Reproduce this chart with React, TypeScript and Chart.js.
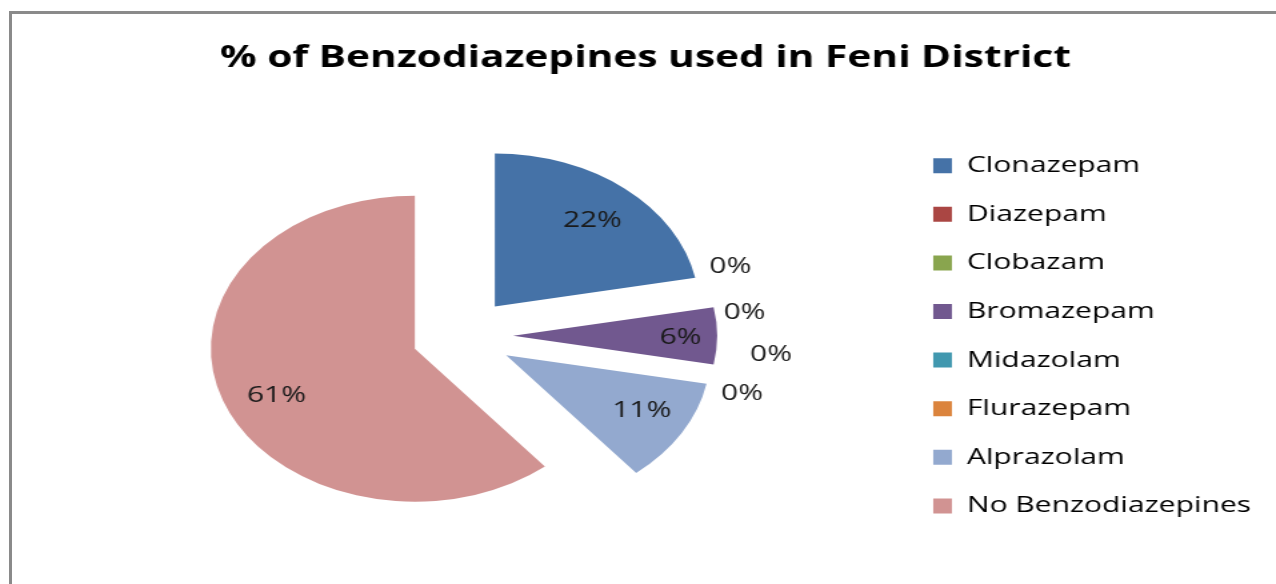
import React, { useEffect, useRef } from 'react';
import { Chart, registerables } from 'chart.js';

Chart.register(...registerables);

// ---- data ----
const categories = [
  'Clonazepam',
  'Diazepam',
  'Clobazam',
  'Bromazepam',
  'Midazolam',
  'Flurazepam',
  'Alprazolam',
  'No Benzodiazepines',
];
const percentages = [22, 0, 0, 6, 0, 0, 11, 61];
const titleText = '% of Benzodiazepines used in Feni District';

// ---- styles ----
const sliceColors = ['#4572A7', '#AA4643', '#89A54E', '#71588F', '#4198AF', '#DB843D', '#93A9CF', '#D19392'];
const EXPLODE = 38; // px each slice is pulled out from the centre
const PIE_RADIUS = 153;
const labelRadiusFrac = [0.75, 0, 0, 0.82, 0, 0, 0.75, 0.74];
// inside labels: small angle tweak from the bisector (degrees)
const insideLabelAngleShift = [0, 0, 0, 0, 0, 0, -3, -3.8];
// zero-value labels sit outside the pie, spread apart (degrees shift, px beyond rim)
const zeroLabelAngleShift = [0, -8.6, 4.1, 0, -6.6, 4.2, 0, 0];
const zeroLabelGap = [0, 60, 60, 0, 79, 64, 0, 0];
const FONT = '"Open Sans", Lato, sans-serif';
const LABEL_SIZE = 22.5;
const STRETCH = 1.3333;
const W = 1276;
const H = 584;
const DEG = Math.PI / 180;

const explodedPiePlugin = {
  id: 'explodedPie',
  beforeDatasetDraw(chart: any, args: any) {
    const ctx = chart.ctx;
    args.meta.data.forEach((arc: any) => {
      const { startAngle, endAngle } = arc.getProps(['startAngle', 'endAngle'], true);
      const mid = (startAngle + endAngle) / 2;
      ctx.save();
      ctx.translate(Math.cos(mid) * EXPLODE, Math.sin(mid) * EXPLODE);
      arc.draw(ctx, chart.chartArea);
      ctx.restore();
    });
    return false;
  },
  afterDatasetsDraw(chart: any) {
    const ctx = chart.ctx;
    const meta = chart.getDatasetMeta(0);
    ctx.save();
    ctx.font = `${LABEL_SIZE}px ${FONT}`;
    ctx.fillStyle = '#1a1a1a';
    ctx.textAlign = 'center';
    ctx.textBaseline = 'middle';
    meta.data.forEach((arc: any, i: number) => {
      const { x, y, startAngle, endAngle, outerRadius } = arc.getProps(
        ['x', 'y', 'startAngle', 'endAngle', 'outerRadius'],
        true
      );
      const v = percentages[i];
      let px: number;
      let py: number;
      if (v > 0) {
        const mid = (startAngle + endAngle) / 2;
        const ang = mid + insideLabelAngleShift[i] * DEG;
        const r = outerRadius * labelRadiusFrac[i];
        px = x + Math.cos(mid) * EXPLODE + Math.cos(ang) * r;
        py = y + Math.sin(mid) * EXPLODE + Math.sin(ang) * r;
      } else {
        const ang = startAngle + zeroLabelAngleShift[i] * DEG;
        const r = outerRadius + zeroLabelGap[i];
        px = x + Math.cos(ang) * r;
        py = y + Math.sin(ang) * r;
      }
      ctx.fillText(`${v}%`, px, py + 2);
    });
    ctx.restore();
  },
};

export default function App() {
  const canvasRef = useRef<HTMLCanvasElement | null>(null);

  useEffect(() => {
    if (!canvasRef.current) return;
    const chart = new Chart(canvasRef.current, {
      type: 'pie',
      data: {
        labels: categories,
        datasets: [
          {
            data: percentages,
            backgroundColor: sliceColors,
            borderWidth: 0,
            radius: PIE_RADIUS,
          } as any,
        ],
      },
      options: {
        animation: false,
        responsive: true,
        maintainAspectRatio: false,
        layout: { padding: { left: 20, right: 8.7, top: 0, bottom: 0 } },
        plugins: {
          title: {
            display: true,
            text: titleText,
            color: '#000',
            font: { family: FONT, size: 30.5, weight: 'bold' },
            padding: { top: 40, bottom: 11 },
          },
          legend: {
            position: 'right',
            fullSize: false,
            labels: {
              color: '#000',
              font: { family: FONT, size: LABEL_SIZE },
              boxWidth: 14,
              boxHeight: 15,
              padding: 26.1,
            },
          },
          tooltip: { enabled: false },
        },
      },
      plugins: [explodedPiePlugin],
    });
    return () => chart.destroy();
  }, []);

  return (
    <div
      style={{
        position: 'fixed',
        left: 0,
        top: 0,
        width: W,
        height: H,
        overflow: 'hidden',
        background: '#fff',
      }}
    >
      <div
        style={{
          position: 'absolute',
          left: 9,
          top: 11,
          width: W + 100,
          height: H + 100,
          border: '3px solid #8a8a8a',
          boxSizing: 'border-box',
        }}
      />
      <div
        style={{
          position: 'absolute',
          left: 0,
          top: 0,
          width: W / STRETCH,
          height: H,
          transform: `scaleX(${STRETCH})`,
          transformOrigin: '0 0',
        }}
      >
        <canvas ref={canvasRef} />
      </div>
    </div>
  );
}
